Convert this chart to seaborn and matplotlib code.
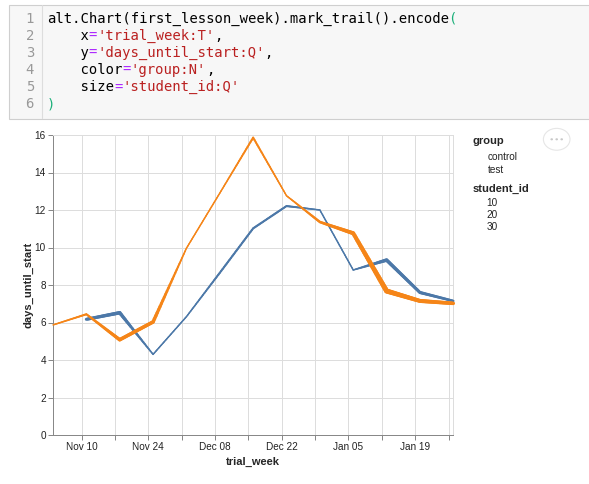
import numpy as np
import pandas as pd
import matplotlib
matplotlib.use('Agg')
import matplotlib.pyplot as plt
import matplotlib.dates as mdates
from matplotlib.collections import LineCollection
from matplotlib.patches import Rectangle, Circle
import seaborn as sns

# data (weekly, Mondays)
weeks = pd.date_range('2019-11-04', '2020-01-27', freq='7D')
test_days = [5.87, 6.44, 5.08, 6.03, 9.96, 12.9, 15.86, 12.76, 11.36, 10.76, 7.68, 7.15, 7.02]
test_ids = [4, 9, 22, 22, 4, 4, 9, 4, 13, 26, 35, 26, 22]
control_days = [6.17, 6.52, 4.30, 6.31, 8.65, 11.02, 12.21, 12.0, 8.8, 9.33, 7.6, 7.15]
control_ids = [18, 22, 4, 4, 9, 9, 9, 4, 4, 22, 18, 13]
groups = ['control', 'test']
colors = {'control': '#4c78a8', 'test': '#f58518'}
size_legend = [10, 20, 30]

code_lines = [
    [("alt.Chart(first_lesson_week).mark_trail().encode", 'k'), ("(", 'g')],
    [("    x", 'k'), ("=", 'p'), ("'trial_week:T'", 'r'), (",", 'k')],
    [("    y", 'k'), ("=", 'p'), ("'days_until_start:Q'", 'r'), (",", 'k')],
    [("    color", 'k'), ("=", 'p'), ("'group:N'", 'r'), (",", 'k')],
    [("    size", 'k'), ("=", 'p'), ("'student_id:Q'", 'r')],
    [(")", 'g')],
]
code_colors = {'k': '#000000', 'p': '#aa22ff', 'r': '#ba2121', 'g': '#1cb07a'}

df = pd.concat([
    pd.DataFrame({'group': 'control', 'trial_week': weeks[1:],
                  'days_until_start': control_days, 'student_id': control_ids}),
    pd.DataFrame({'group': 'test', 'trial_week': weeks,
                  'days_until_start': test_days, 'student_id': test_ids}),
], ignore_index=True)

W, H = 589, 484
def fx(x):
    return x / W
def fy(y):
    return 1 - y / H

def width_pt(sid):
    # size scale: 0..35 -> 1..5 px
    return (1 + 4 * sid / 35.0) * 0.72

def trail(ax, x, y, ids, color):
    xs = mdates.date2num(x)
    segs, lws = [], []
    t = np.linspace(0, 1, 25)
    for i in range(len(xs) - 1):
        px = xs[i] + (xs[i + 1] - xs[i]) * t
        py = y[i] + (y[i + 1] - y[i]) * t
        w = width_pt(ids[i]) + (width_pt(ids[i + 1]) - width_pt(ids[i])) * t
        for k in range(len(t) - 1):
            segs.append([(px[k], py[k]), (px[k + 1], py[k + 1])])
            lws.append((w[k] + w[k + 1]) / 2)
    lc = LineCollection(segs, linewidths=lws, colors=color, capstyle='round',
                        joinstyle='round', clip_on=False, zorder=3)
    ax.add_collection(lc)

sns.set_style('white')
plt.rcParams['font.family'] = ['Liberation Sans', 'DejaVu Sans']

fig = plt.figure(figsize=(W / 100, H / 100), dpi=100)

# code cell
fig.patches.append(Rectangle((fx(8.5), fy(119)), fx(600) - fx(8.5), fy(4.5) - fy(119),
                             transform=fig.transFigure, facecolor='#f7f7f7',
                             edgecolor='#cfcfcf', lw=0.8, zorder=0))
fig.lines.append(plt.Line2D([fx(42), fx(42)], [fy(5), fy(118.5)], transform=fig.transFigure,
                            color='#dddddd', lw=0.8))
cw = 0.60205 * 10 / 72 * 100   # advance of DejaVu Sans Mono at 10pt, in px
for i, toks in enumerate(code_lines):
    yy = 19 + 17.1 * i
    fig.text(fx(34), fy(yy), str(i + 1), ha='right', va='center', color='#999999',
             family='DejaVu Sans Mono', fontsize=10)
    col = 0
    for txt, c in toks:
        fig.text(fx(47 + col * cw), fy(yy), txt, ha='left', va='center',
                 color=code_colors[c], family='DejaVu Sans Mono', fontsize=10)
        col += len(txt)

# chart
ax = fig.add_axes([fx(53), fy(435), (453.3 - 53) / W, (435 - 135) / H])
sns.lineplot(data=df, x='trial_week', y='days_until_start', hue='group',
             hue_order=groups, palette=colors, estimator=None, sort=False,
             linewidth=0.7, legend=False, ax=ax)
for g in groups:
    sub = df[df['group'] == g]
    trail(ax, sub['trial_week'], sub['days_until_start'].values,
          sub['student_id'].values, colors[g])

ax.set_xlim(weeks[0], weeks[-1])
ax.set_ylim(0, 16)
ax.set_yticks(np.arange(0, 17, 2))
sundays = pd.date_range('2019-11-10', '2020-01-26', freq='7D')
ax.set_xticks(sundays)
ax.set_xticklabels([d.strftime('%b %d') if i % 2 == 0 else '' for i, d in enumerate(sundays)])
ax.grid(True, color='#dddddd', lw=0.72)
ax.set_axisbelow(True)
for s in ['top', 'right']:
    ax.spines[s].set_color('#dddddd')
    ax.spines[s].set_linewidth(0.72)
for s in ['left', 'bottom']:
    ax.spines[s].set_color('#888888')
    ax.spines[s].set_linewidth(0.72)
ax.tick_params(axis='both', which='both', length=3.6, width=0.72, color='#888888',
               labelsize=7.2, pad=1.5, labelcolor='#222222',
               bottom=True, left=True)
ax.set_xlabel('')
ax.set_ylabel('')
fig.text(fx(253), fy(462), 'trial_week', ha='center', va='center',
         fontweight='bold', fontsize=8)
fig.text(fx(28), fy(285), 'days_until_start', ha='center', va='center',
         rotation=90, fontweight='bold', fontsize=8)

# legend (text only, as in the reference)
fig.text(fx(472.5), fy(141), 'group', ha='left', va='center', fontweight='bold', fontsize=8)
for j, g in enumerate(groups):
    fig.text(fx(488), fy(156.5 + 13.5 * j), g, ha='left', va='center', fontsize=7.2, color='#222222')
fig.text(fx(472.5), fy(189), 'student_id', ha='left', va='center', fontweight='bold', fontsize=8)
for j, v in enumerate(size_legend):
    fig.text(fx(486.5), fy(202.5 + 12.5 * j), str(v), ha='left', va='center', fontsize=7.2, color='#222222')

# actions button
fig.patches.append(Circle((fx(556.7), fy(139.3)), 13.3 / W, transform=fig.transFigure,
                          facecolor='white', edgecolor='#e6e6e6', lw=0.8))
for dx in (-5, 0, 5):
    fig.patches.append(Circle((fx(556.7 + dx), fy(139.3)), 1.3 / W, transform=fig.transFigure,
                              facecolor='#c8c8c8', edgecolor='none'))

fig.savefig('out.png', dpi=100)
